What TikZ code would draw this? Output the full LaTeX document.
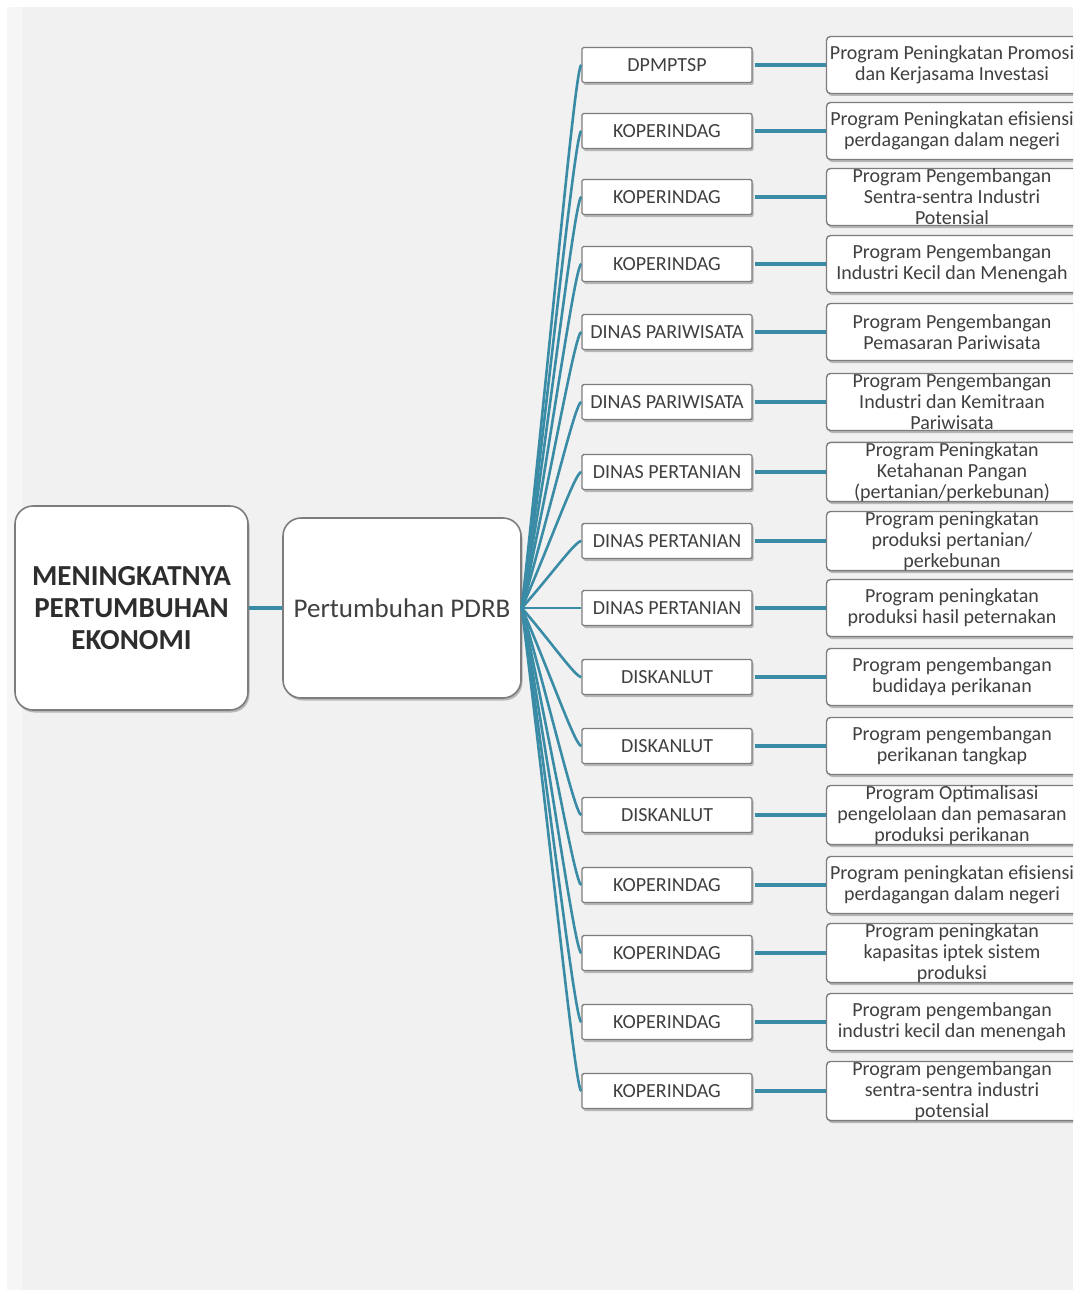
\documentclass[tikz,border=0pt]{standalone}
\usepackage{fontspec}
\setmainfont{Carlito}
\usetikzlibrary{shadows,calc}
\definecolor{bggray}{RGB}{241,241,241}
\definecolor{bgstrip}{RGB}{246,246,246}
\definecolor{conn}{RGB}{58,140,166}
\definecolor{boxline}{RGB}{125,125,125}
\definecolor{txt}{RGB}{64,64,64}
\definecolor{titletxt}{RGB}{45,45,45}
\tikzset{
  shad/.style={drop shadow={shadow xshift=1.5pt,shadow yshift=-2.5pt,opacity=0.35,fill=black!70}},
  bigbox/.style={draw=boxline,line width=1.6pt,fill=white,rounded corners=18pt,shad,inner sep=0pt,align=center,text=titletxt},
  midbox/.style={draw=boxline,line width=1.4pt,fill=white,rounded corners=1.5pt,shad,inner sep=0pt,
    minimum width=170pt,minimum height=35pt,text=txt,font=\fontsize{20}{22}\selectfont},
  progbox/.style={draw=boxline,line width=1.4pt,fill=white,rounded corners=4pt,shad,inner sep=0pt,
    minimum width=251pt,minimum height=57pt,align=center,text=txt,font=\fontsize{20}{21}\selectfont},
  hconn/.style={draw=conn,line width=3.8pt},
  fan/.style={draw=conn,line width=2.6pt}
}
\begin{document}
\begin{tikzpicture}[x=1pt,y=-1pt]
\useasboundingbox (0,0) rectangle (1073,1295);
\clip (0,0) rectangle (1073,1295);
\fill[white] (0,0) rectangle (1073,1295);
\fill[bggray] (7,7) rectangle (1073,1290);
\fill[bgstrip] (7,7) rectangle (22,1290);

% main boxes
\node[bigbox,minimum width=233pt,minimum height=204pt,font=\fontsize{29}{32}\selectfont\bfseries] (goal) at (131.5,608)
  {MENINGKATNYA\\PERTUMBUHAN\\EKONOMI};
\node[bigbox,minimum width=238pt,minimum height=180pt,text=txt,font=\fontsize{27}{30}\selectfont] (pdrb) at (402,608)
  {Pertumbuhan PDRB};
\draw[hconn] (goal.east) -- (pdrb.west);

% middle (agency) boxes
\foreach \i/\y/\t in {
  1/65/DPMPTSP, 2/131/KOPERINDAG, 3/197/KOPERINDAG, 4/264/KOPERINDAG,
  5/332/DINAS PARIWISATA, 6/402/DINAS PARIWISATA, 7/472/DINAS PERTANIAN,
  8/541/DINAS PERTANIAN, 9/608/DINAS PERTANIAN, 10/677/DISKANLUT,
  11/746/DISKANLUT, 12/815/DISKANLUT, 13/885/KOPERINDAG, 14/953/KOPERINDAG,
  15/1022/KOPERINDAG, 16/1091/KOPERINDAG}
  {\node[midbox] (m\i) at (667,\y) {\t};}

% program boxes
\node[progbox] (p1) at (952,65) {Program Peningkatan Promosi\\dan Kerjasama Investasi};
\node[progbox] (p2) at (952,131) {Program Peningkatan efisiensi\\perdagangan dalam negeri};
\node[progbox] (p3) at (952,197) {Program Pengembangan\\Sentra-sentra Industri\\Potensial};
\node[progbox] (p4) at (952,264) {Program Pengembangan\\Industri Kecil dan Menengah};
\node[progbox] (p5) at (952,332) {Program Pengembangan\\Pemasaran Pariwisata};
\node[progbox] (p6) at (952,402) {Program Pengembangan\\Industri dan Kemitraan\\Pariwisata};
\node[progbox] (p7) at (952,472) {Program Peningkatan\\Ketahanan Pangan\\(pertanian/perkebunan)};
\node[progbox] (p8) at (952,541) {Program peningkatan\\produksi pertanian/\\perkebunan};
\node[progbox] (p9) at (952,608) {Program peningkatan\\produksi hasil peternakan};
\node[progbox] (p10) at (952,677) {Program pengembangan\\budidaya perikanan};
\node[progbox] (p11) at (952,746) {Program pengembangan\\perikanan tangkap};
\node[progbox] (p12) at (952,815) {Program Optimalisasi\\pengelolaan dan pemasaran\\produksi perikanan};
\node[progbox] (p13) at (952,885) {Program peningkatan efisiensi\\perdagangan dalam negeri};
\node[progbox] (p14) at (952,953) {Program peningkatan\\kapasitas iptek sistem\\produksi};
\node[progbox] (p15) at (952,1022) {Program pengembangan\\industri kecil dan menengah};
\node[progbox] (p16) at (952,1091) {Program pengembangan\\sentra-sentra industri\\potensial};

% connectors
\foreach \i in {1,...,16}{
  \draw[fan] (pdrb.east) .. controls ($(pdrb.east)!0.5!(m\i.west)$) and ($(m\i.west)+(-6,0)$) .. (m\i.west);
  \draw[hconn] ($(m\i.east)+(2,0)$) -- (p\i.west);
}
\end{tikzpicture}
\end{document}
